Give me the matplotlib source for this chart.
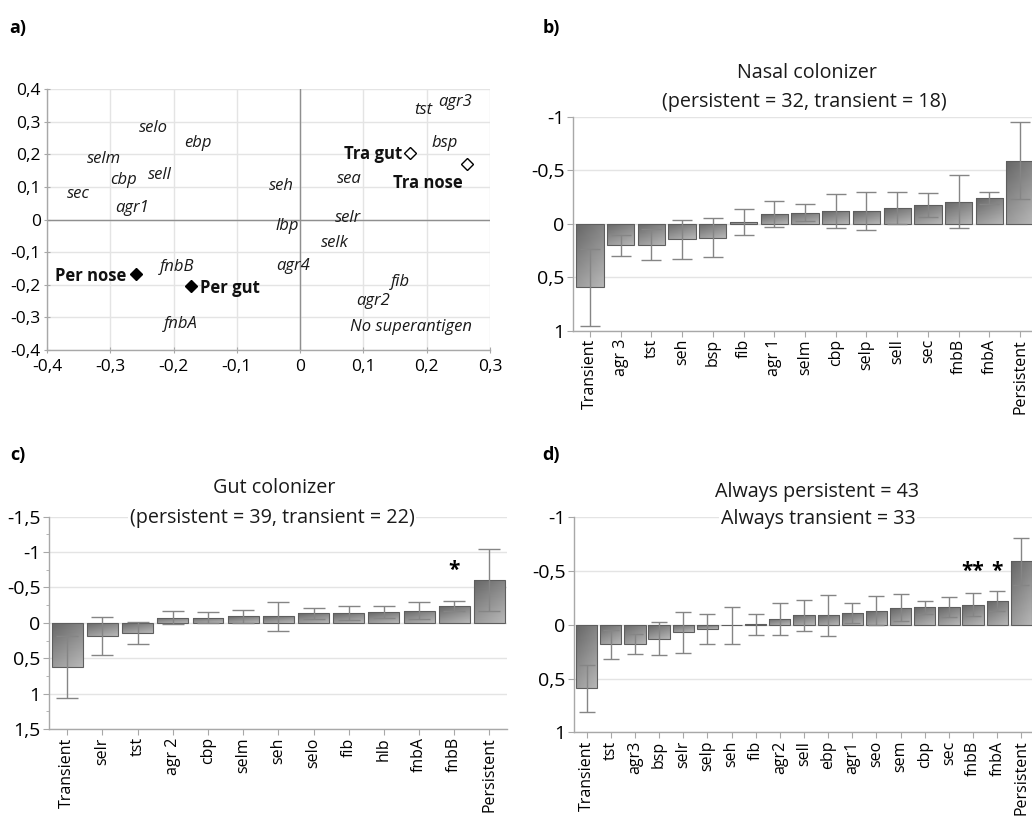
import numpy as np
import matplotlib
matplotlib.use('Agg')
import matplotlib.pyplot as plt
from matplotlib.ticker import MultipleLocator

plt.rcParams['font.family'] = ['Open Sans', 'DejaVu Sans']

# ---------------- data: panel a (biplot) ----------------
gene_labels = ['tst', 'agr3', 'selo', 'ebp', 'selm', 'bsp', 'cbp', 'sell', 'sec', 'seh',
               'sea', 'agr1', 'selr', 'lbp', 'selk', 'agr4', 'fnbB', 'fib', 'agr2', 'fnbA',
               'No superantigen']
gene_x = [0.195, 0.245, -0.232, -0.162, -0.31, 0.229, -0.279, -0.222, -0.351, -0.03,
          0.077, -0.266, 0.076, -0.02, 0.055, -0.011, -0.194, 0.158, 0.115, -0.188, 0.175]
gene_y = [0.335, 0.36, 0.28, 0.235, 0.185, 0.234, 0.121, 0.136, 0.077, 0.103,
          0.124, 0.034, 0.005, -0.021, -0.072, -0.144, -0.146, -0.193, -0.25, -0.32, -0.33]

group_labels = ['Per nose', 'Per gut', 'Tra gut', 'Tra nose']
group_x = [-0.26, -0.172, 0.173, 0.263]
group_y = [-0.167, -0.204, 0.204, 0.169]
group_filled = [True, True, False, False]
group_text_x = [-0.274, -0.159, 0.161, 0.2016]
group_text_y = [-0.172, -0.21, 0.2, 0.113]
group_text_ha = ['right', 'left', 'right', 'center']

a_xticks = [-0.4, -0.3, -0.2, -0.1, 0, 0.1, 0.2, 0.3]
a_xticklabels = ['-0,4', '-0,3', '-0,2', '-0,1', '0', '0,1', '0,2', '0,3']
a_yticks = [-0.4, -0.3, -0.2, -0.1, 0, 0.1, 0.2, 0.3, 0.4]
a_yticklabels = ['-0,4', '-0,3', '-0,2', '-0,1', '0', '0,1', '0,2', '0,3', '0,4']

# ---------------- data: panel b (nasal colonizer) ----------------
b_cats = ['Transient', 'agr 3', 'tst', 'seh', 'bsp', 'fib', 'agr 1', 'selm', 'cbp', 'selp',
          'sell', 'sec', 'fnbB', 'fnbA', 'Persistent']
b_vals = [0.594, 0.203, 0.197, 0.147, 0.131, -0.016, -0.09, -0.103, -0.116, -0.116,
          -0.144, -0.175, -0.206, -0.24, -0.5875]
b_errs = [0.36, 0.095, 0.144, 0.184, 0.184, 0.123, 0.125, 0.078, 0.158, 0.177,
          0.148, 0.113, 0.248, 0.056, 0.36]

# ---------------- data: panel c (gut colonizer) ----------------
c_cats = ['Transient', 'selr', 'tst', 'agr 2', 'cbp', 'selm', 'seh', 'selo', 'fib', 'hlb',
          'fnbA', 'fnbB', 'Persistent']
c_vals = [0.622, 0.184, 0.146, -0.075, -0.075, -0.094, -0.094, -0.137, -0.137, -0.155,
          -0.174, -0.236, -0.608]
c_errs = [0.44, 0.264, 0.153, 0.087, 0.078, 0.094, 0.205, 0.078, 0.099, 0.08,
          0.115, 0.069, 0.44]
c_stars = {'fnbB': ('*', -0.744)}

# ---------------- data: panel d (always persistent / transient) ----------------
d_cats = ['Transient', 'tst', 'agr3', 'bsp', 'selr', 'selp', 'seh', 'fib', 'agr2', 'sell',
          'ebp', 'agr1', 'seo', 'sem', 'cbp', 'sec', 'fnbB', 'fnbA', 'Persistent']
d_vals = [0.592, 0.18, 0.177, 0.13, 0.071, 0.037, 0.006, -0.003, -0.056, -0.087,
          -0.087, -0.109, -0.13, -0.158, -0.161, -0.161, -0.186, -0.217, -0.589]
d_errs = [0.217, 0.136, 0.092, 0.155, 0.194, 0.14, 0.174, 0.096, 0.148, 0.143,
          0.19, 0.09, 0.135, 0.127, 0.059, 0.093, 0.108, 0.093, 0.217]
d_stars = {'fnbB': ('**', -0.5), 'fnbA': ('*', -0.5)}

bar_yticks_1 = [-1, -0.5, 0, 0.5, 1]
bar_yticklabels_1 = ['-1', '-0,5', '0', '0,5', '1']
bar_yticks_15 = [-1.5, -1, -0.5, 0, 0.5, 1, 1.5]
bar_yticklabels_15 = ['-1,5', '-1', '-0,5', '0', '0,5', '1', '1,5']

# ---------------- figure ----------------
W, H = 1032, 816
fig = plt.figure(figsize=(W / 100, H / 100), dpi=100)
fig.patch.set_facecolor('white')

GRID = '#e4e4e4'
SPINE = '#a8a8a8'


def px_axes(l, t, r, b):
    return fig.add_axes([l / W, 1 - b / H, (r - l) / W, (b - t) / H])


def style_spines(ax):
    for s in ['top', 'right']:
        ax.spines[s].set_visible(False)
    for s in ['left', 'bottom']:
        ax.spines[s].set_color(SPINE)
        ax.spines[s].set_linewidth(1.0)


def draw_bars(ax, cats, vals, errs, width, capsize, xlim, ylim):
    x = np.arange(len(cats))
    bars = ax.bar(x, vals, width=width, color='none', edgecolor='#5e5e5e',
                  linewidth=0.8, zorder=3)
    gx, gy = np.meshgrid(np.linspace(0, 1, 30), np.linspace(0, 1, 60))
    z = 0.40 + 0.32 * (0.65 * gy + 0.35 * gx)
    for b in bars:
        x0, w = b.get_x(), b.get_width()
        y, h = b.get_y(), b.get_height()
        ylo, yhi = min(y, y + h), max(y, y + h)
        im = ax.imshow(z, cmap='gray', vmin=0, vmax=1, origin='upper',
                       extent=(x0, x0 + w, yhi, ylo), aspect='auto',
                       interpolation='bilinear', zorder=2)
        im.set_clip_path(b)
    ax.errorbar(x, vals, yerr=errs, fmt='none', ecolor='#858585', elinewidth=1.0,
                capsize=capsize, capthick=1.0, zorder=4)
    ax.set_xlim(*xlim)
    ax.set_ylim(*ylim)
    ax.set_xticks(x)
    ax.set_xticklabels(cats, rotation=90, fontsize=11.5, va='top', ha='center')
    ax.tick_params(axis='x', length=4, color=SPINE, pad=2)
    ax.tick_params(axis='y', length=4, color=SPINE, labelsize=14, pad=2)
    ax.yaxis.grid(True, color=GRID, linewidth=1.0)
    ax.set_axisbelow(True)
    style_spines(ax)
    return x


# ---- panel a ----
axa = px_axes(47, 89, 490, 350)
axa.set_xlim(-0.4, 0.3)
axa.set_ylim(-0.4, 0.4)
axa.set_xticks(a_xticks)
axa.set_xticklabels(a_xticklabels)
axa.set_yticks(a_yticks)
axa.set_yticklabels(a_yticklabels)
axa.tick_params(labelsize=12.5, direction='inout', length=5, color=SPINE)
axa.tick_params(axis='x', pad=4)
axa.tick_params(axis='y', pad=2)
axa.grid(True, color=GRID, linewidth=1.0)
axa.set_axisbelow(True)
style_spines(axa)
axa.axhline(0, color='#8f8f8f', linewidth=1.0, zorder=1)
axa.axvline(0, color='#8f8f8f', linewidth=1.0, zorder=1)
for lab, gx_, gy_ in zip(gene_labels, gene_x, gene_y):
    axa.text(gx_, gy_, lab, style='italic', fontsize=12, ha='center', va='center',
             color='#1a1a1a', zorder=5)
for lab, mx, my, filled, tx, ty, ha in zip(group_labels, group_x, group_y, group_filled,
                                            group_text_x, group_text_y, group_text_ha):
    axa.plot([mx], [my], marker='D', ms=6.5, mfc='black' if filled else 'white',
             mec='black', mew=1.0, linestyle='none', zorder=6)
    axa.text(tx, ty, lab, fontweight='bold', fontsize=12, ha=ha, va='center',
             color='#111111', zorder=6)

# ---- panel b ----
axb = px_axes(573, 116.7, 1037, 330.7)
draw_bars(axb, b_cats, b_vals, b_errs, 0.89, 7.0, (-0.55, 14.55), (1, -1))
axb.set_yticks(bar_yticks_1)
axb.set_yticklabels(bar_yticklabels_1)

# ---- panel c ----
axc = px_axes(49, 516.7, 507, 729)
xc = draw_bars(axc, c_cats, c_vals, c_errs, 0.88, 8.0, (-0.52, 12.5), (1.5, -1.5))
axc.set_yticks(bar_yticks_15)
axc.set_yticklabels(bar_yticklabels_15)
axc.yaxis.set_minor_locator(MultipleLocator(0.25))
axc.tick_params(axis='y', which='minor', length=2.5, color=SPINE)
for cat, (s, sy) in c_stars.items():
    axc.text(c_cats.index(cat), sy, s, ha='center', va='center', fontsize=15,
             fontweight='bold', zorder=6)

# ---- panel d ----
axd = px_axes(574, 517.3, 1034, 732.3)
draw_bars(axd, d_cats, d_vals, d_errs, 0.88, 6.0, (-0.52, 18.52), (1, -1))
axd.set_yticks(bar_yticks_1)
axd.set_yticklabels(bar_yticklabels_1)
for cat, (s, sy) in d_stars.items():
    axd.text(d_cats.index(cat), sy, s, ha='center', va='center', fontsize=15,
             fontweight='bold', zorder=6)

# ---- titles ----
tkw = dict(ha='center', va='center', fontsize=14.2, color='#1a1a1a',
           bbox=dict(facecolor='white', edgecolor='none', pad=1.0))
fig.text(807 / W, 1 - 72.7 / H, 'Nasal colonizer', **tkw)
fig.text(804 / W, 1 - 101.7 / H, '(persistent = 32, transient = 18)', **tkw)
fig.text(274 / W, 1 - 488 / H, 'Gut colonizer', **tkw)
fig.text(272 / W, 1 - 518 / H, '(persistent = 39, transient = 22)', **tkw)
fig.text(817 / W, 1 - 491.7 / H, 'Always persistent = 43', **tkw)
fig.text(818 / W, 1 - 519.3 / H, 'Always transient = 33', **tkw)

# ---- panel letters ----
lkw = dict(ha='left', va='center', fontsize=13, fontweight='bold')
fig.text(9 / W, 1 - 28 / H, 'a)', **lkw)
fig.text(543 / W, 1 - 28 / H, 'b)', **lkw)
fig.text(10 / W, 1 - 455 / H, 'c)', **lkw)
fig.text(542 / W, 1 - 455 / H, 'd)', **lkw)

fig.savefig('out.png', dpi=100)
